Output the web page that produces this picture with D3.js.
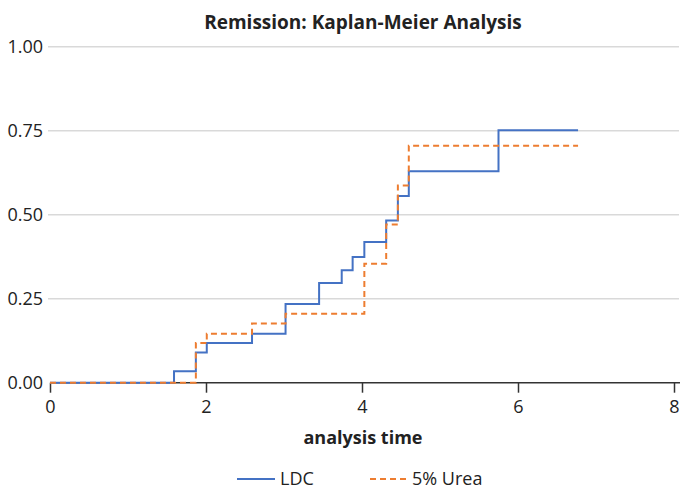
<!DOCTYPE html>
<html>
<head>
<meta charset="utf-8">
<script src="https://cdn.jsdelivr.net/npm/d3@7"></script>
<style>
  body { margin: 0; background: #fff; }
  text { font-family: "Open Sans", "Noto Sans", sans-serif; fill: #222; }
</style>
</head>
<body>
<div id="chart"></div>
<script>
// step change points (time, cumulative failure)
const ldcTimes = [0, 1.59, 1.87, 2.01, 2.59, 3.02, 3.45, 3.74, 3.88, 4.03, 4.31, 4.46, 4.60, 5.75];
const ldcValues = [0, 0.034, 0.090, 0.118, 0.146, 0.234, 0.297, 0.335, 0.374, 0.419, 0.483, 0.556, 0.629, 0.751];
const ureaTimes = [0, 1.87, 2.01, 2.59, 3.02, 4.03, 4.31, 4.46, 4.60];
const ureaValues = [0, 0.118, 0.146, 0.176, 0.205, 0.354, 0.471, 0.587, 0.705];
const endTime = 6.77;
const xTicks = [0, 2, 4, 6, 8];
const yTicks = [0, 0.25, 0.5, 0.75, 1];

const width = 681, height = 490;

const svg = d3.select('#chart').append('svg')
  .attr('width', width)
  .attr('height', height);

const x = d3.scaleLinear().domain([0, 8]).range([50, 674]);
const y = d3.scaleLinear().domain([0, 1]).range([382.7, 46.7]);

// title
svg.append('text')
  .attr('x', 363).attr('y', 29)
  .attr('text-anchor', 'middle')
  .style('font-weight', 'bold')
  .style('font-size', '19px')
  .text('Remission: Kaplan-Meier Analysis');

// gridlines
svg.append('g').selectAll('line')
  .data(yTicks.filter(d => d > 0))
  .enter().append('line')
    .attr('x1', x(0) - 2).attr('x2', x(8) + 5)
    .attr('y1', d => y(d)).attr('y2', d => y(d))
    .attr('stroke', '#d9d9d9')
    .attr('stroke-width', 1.5);

// y labels
svg.append('g').selectAll('text')
  .data(yTicks)
  .enter().append('text')
    .attr('x', 43)
    .attr('y', d => y(d))
    .attr('dy', '0.35em')
    .attr('text-anchor', 'end')
    .style('font-size', '18px')
    .text(d3.format('.2f'));

// x axis
const xAxis = svg.append('g')
  .attr('transform', `translate(0,${y(0)})`)
  .call(d3.axisBottom(x).tickValues(xTicks).tickSize(10).tickPadding(8).tickFormat(d3.format('d')));
xAxis.select('.domain')
  .attr('d', `M${x(0)},0H${x(8) + 6}`)
  .attr('stroke', '#333')
  .attr('stroke-width', 1.5);
xAxis.selectAll('.tick line').attr('stroke', '#333').attr('stroke-width', 1.5);
xAxis.selectAll('.tick text')
  .style('font-family', '"Open Sans", "Noto Sans", sans-serif')
  .style('font-size', '18px')
  .attr('fill', '#222');

svg.append('text')
  .attr('x', 363).attr('y', 444)
  .attr('text-anchor', 'middle')
  .style('font-weight', 'bold')
  .style('font-size', '18px')
  .text('analysis time');

// curves
const line = d3.line()
  .x(d => x(d[0]))
  .y(d => y(d[1]))
  .curve(d3.curveStepAfter);

function pts(times, values) {
  const p = times.map((t, i) => [t, values[i]]);
  p.push([endTime, values[values.length - 1]]);
  return p;
}

svg.append('path')
  .datum(pts(ldcTimes, ldcValues))
  .attr('d', line)
  .attr('fill', 'none')
  .attr('stroke', '#4472c4')
  .attr('stroke-width', 2);

svg.append('path')
  .datum(pts(ureaTimes, ureaValues))
  .attr('d', line)
  .attr('fill', 'none')
  .attr('stroke', '#ed7d31')
  .attr('stroke-width', 2)
  .attr('stroke-dasharray', '6,4');

// legend
const legend = [
  {name: 'LDC', color: '#4472c4', dash: null, x: 237},
  {name: '5% Urea', color: '#ed7d31', dash: '6,4', x: 370},
];
const lg = svg.append('g').selectAll('g')
  .data(legend)
  .enter().append('g')
    .attr('transform', d => `translate(${d.x},479)`);
lg.append('line')
  .attr('x1', 0).attr('x2', 38)
  .attr('stroke', d => d.color)
  .attr('stroke-width', 2)
  .attr('stroke-dasharray', d => d.dash);
lg.append('text')
  .attr('x', d => d.dash ? 42 : 43)
  .attr('dy', '0.35em')
  .style('font-size', '18px')
  .text(d => d.name);
</script>
</body>
</html>
